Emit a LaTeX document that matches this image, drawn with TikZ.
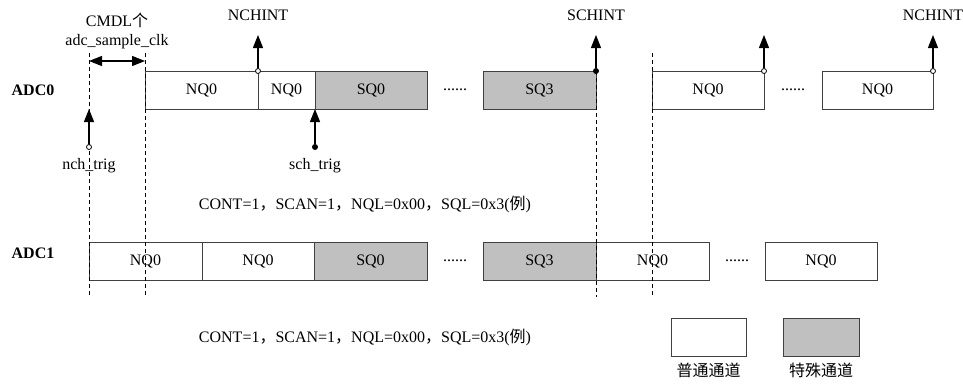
\documentclass[tikz,border=0pt]{standalone}
\usepackage{fontspec}
\setmainfont{Liberation Serif}
\newfontfamily\cjk{Noto Sans CJK SC}
\usetikzlibrary{positioning, arrows.meta, calc}
\definecolor{sqgray}{HTML}{C0C0C0}
\definecolor{boxline}{HTML}{404040}
\newcommand{\figfont}{\fontsize{16}{18}\selectfont}
\newcommand{\zhc}{{\cjk ，}}
\tikzset{
  >={Triangle[length=13pt,width=10pt]}, % filled arrow heads
  chan/.style={draw=boxline,line width=0.9pt,minimum height=38pt,inner sep=0,outer sep=0,font=\figfont},
  nbox/.style={chan,fill=white},
  sbox/.style={chan,fill=sqgray},
  lbl/.style={font=\figfont,inner sep=0},
  guide/.style={line width=0.8pt,dash pattern=on 4pt off 3pt},
  sig/.style={line width=1.2pt},
  odot/.style={circle,draw,fill=white,line width=0.8pt,minimum size=5pt,inner sep=0},
  fdot/.style={circle,fill,minimum size=6pt,inner sep=0}
}

\begin{document}
\begin{tikzpicture}[x=1pt, y=-1pt, node distance=0pt]
  \useasboundingbox (0,0) rectangle (963,384);

  % ADC0 row
  \node[lbl, font=\figfont\bfseries] (adc0) at (33,90) {ADC0};
  \node[nbox, minimum width=113pt, anchor=north west] (a0n1) at (145,71) {NQ0};
  \node[nbox, minimum width=57pt, right=of a0n1] (a0n2) {NQ0};
  \node[sbox, minimum width=112pt, right=of a0n2] (a0s0) {SQ0};
  \node[sbox, minimum width=113pt, right=56pt of a0s0] (a0s3) {SQ3};
  \node[nbox, minimum width=112pt, right=56pt of a0s3] (a0n3) {NQ0};
  \node[nbox, minimum width=111pt, right=58pt of a0n3] (a0n4) {NQ0};
  \node[lbl] (a0d1) at ($(a0s0.east)!0.5!(a0s3.west)$) {......};
  \node[lbl] (a0d2) at ($(a0n3.east)!0.5!(a0n4.west)$) {......};

  % ADC1 row
  \node[lbl, font=\figfont\bfseries] (adc1) at (33,253) {ADC1};
  \node[nbox, minimum width=113pt, anchor=north west] (a1n1) at (89,242) {NQ0};
  \node[nbox, minimum width=112pt, right=of a1n1] (a1n2) {NQ0};
  \node[sbox, minimum width=113pt, right=of a1n2] (a1s0) {SQ0};
  \node[sbox, minimum width=113pt, right=56pt of a1s0] (a1s3) {SQ3};
  \node[nbox, minimum width=113pt, right=of a1s3] (a1n3) {NQ0};
  \node[nbox, minimum width=112pt, right=56pt of a1n3] (a1n4) {NQ0};
  \node[lbl] (a1d1) at ($(a1s0.east)!0.5!(a1s3.west)$) {......};
  \node[lbl] (a1d2) at ($(a1n3.east)!0.5!(a1n4.west)$) {......};

  % Guide lines
  \coordinate (g1t) at (89,53);  \coordinate (g1b) at (89,297);
  \coordinate (g2t) at (145,53); \coordinate (g2b) at (145,297);
  \coordinate (g3b) at (596,297);
  \coordinate (g4t) at (652,53); \coordinate (g4b) at (652,297);
  \draw[guide] (g1t) -- (g1b);
  \draw[guide] (g2t) -- (g2b);
  \draw[guide] (a0s3.north east) -- (g3b);
  \draw[guide] (g4t) -- (g4b);

  % Sample time
  \coordinate (cm1) at (89,61);
  \coordinate (cm2) at (145,61);
  \draw[<->, sig] (cm1) -- (cm2);
  \node[lbl] (cmdl) at (117,20) {CMDL{\cjk 个}};
  \node[lbl] (clk) at (117,42) {adc\_sample\_clk};

  % Interrupts
  \node[odot] (nc1) at (a0n1.north east) {};
  \coordinate[above=36pt of a0n1.north east] (nt1);
  \draw[->, sig] (nc1) -- (nt1);
  \node[lbl, above=14pt of nt1] (nchint1) {NCHINT};

  \node[fdot] (sc1) at (a0s3.north east) {};
  \coordinate[above=36pt of a0s3.north east] (st1);
  \draw[->, sig] (sc1) -- (st1);
  \node[lbl, above=14pt of st1] (schint) {SCHINT};

  \node[odot] (nc2) at (a0n3.north east) {};
  \coordinate[above=36pt of a0n3.north east] (nt2);
  \draw[->, sig] (nc2) -- (nt2);

  \node[odot] (nc3) at (a0n4.north east) {};
  \coordinate[above=36pt of a0n4.north east] (nt3);
  \draw[->, sig] (nc3) -- (nt3);
  \node[lbl, above=14pt of nt3] (nchint3) {NCHINT};

  % Triggers
  \coordinate (ntip) at (89,109);
  \node[odot] (nto) at (89,147) {};
  \draw[->, sig] (nto) -- (ntip);
  \node[lbl, below=8pt of nto] (nchtrig) {nch\_trig};

  \node[fdot] (sto) at ($(a0s0.south west)+(0,38)$) {};
  \draw[->, sig] (sto) -- (a0s0.south west);
  \node[lbl, below=8pt of sto] (schtrig) {sch\_trig};

  % Settings
  \node[lbl] (cfg0) at (365,204) {CONT=1\zhc SCAN=1\zhc NQL=0x00\zhc SQL=0x3({\cjk 例})};
  \node[lbl] (cfg1) at (365,337) {CONT=1\zhc SCAN=1\zhc NQL=0x00\zhc SQL=0x3({\cjk 例})};

  % Legend
  \node[nbox, minimum width=75pt, anchor=north west] (lgn) at (671,318) {};
  \node[sbox, minimum width=76pt, right=37pt of lgn] (lgs) {};
  \node[lbl, below=7pt of lgn] (lgnt) {{\cjk 普通通道}};
  \node[lbl, below=7pt of lgs] (lgst) {{\cjk 特殊通道}};

\end{tikzpicture}
\end{document}
